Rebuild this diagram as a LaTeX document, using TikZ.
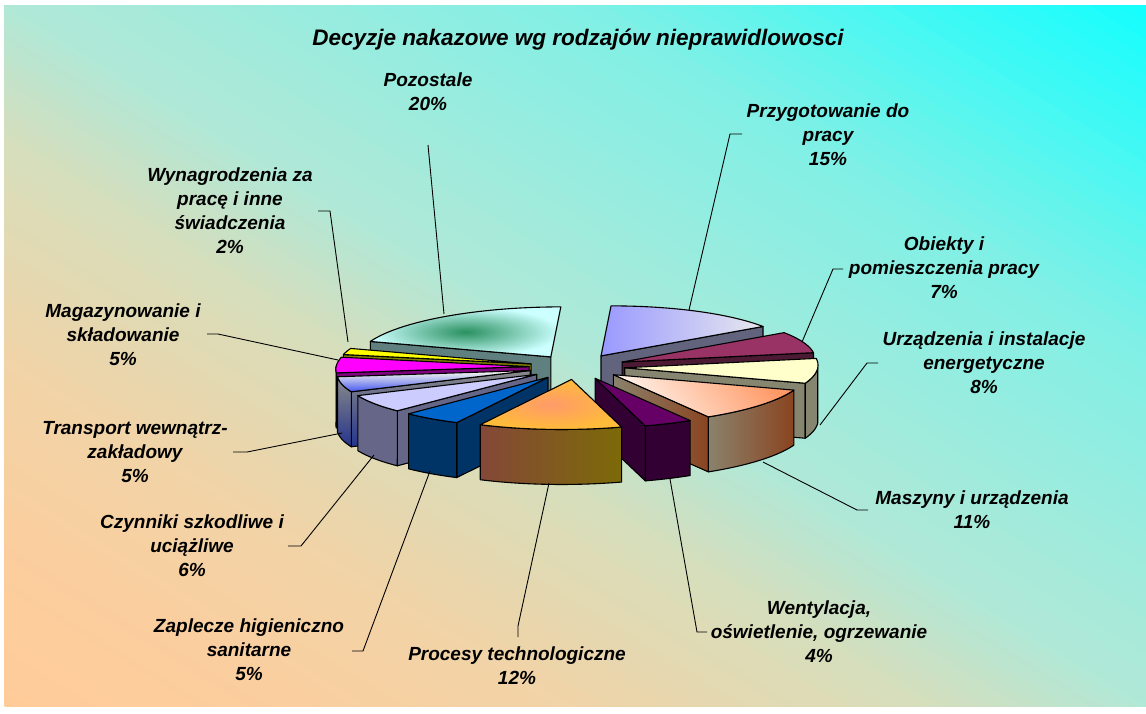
\documentclass[tikz,border=0pt]{standalone}
\usepackage{fontspec}
\setmainfont{Liberation Sans}
\usepackage{tikz}

% background, lower left to upper right
\definecolor{bgLL}{HTML}{FFCC99}
\definecolor{bgM0}{HTML}{FCCD9D}
\definecolor{bgM1}{HTML}{F0D4A8}
\definecolor{bgM2}{HTML}{D6DEBC}
\definecolor{bgM3}{HTML}{B0E8D7}
\definecolor{bgM4}{HTML}{80F0E6}
\definecolor{bgUR}{HTML}{10FFFF}
% slice colours
\definecolor{przygA}{HTML}{9999FF}
\definecolor{przygB}{HTML}{E8E8EE}
\definecolor{przygS}{HTML}{62647E}
\definecolor{pozA}{HTML}{CCFFFF}
\definecolor{pozB}{HTML}{2A9060}
\definecolor{pozS}{HTML}{608080}
\definecolor{obiA}{HTML}{993366}
\definecolor{obiS}{HTML}{4C1A33}
\definecolor{wynA}{HTML}{FFFF00}
\definecolor{wynS}{HTML}{808000}
\definecolor{magA}{HTML}{FF00FF}
\definecolor{magS}{HTML}{800080}
\definecolor{urzA}{HTML}{FFFFCC}
\definecolor{urzS}{HTML}{858570}
\definecolor{tranA}{HTML}{FFFFEE}
\definecolor{tranB}{HTML}{4455EE}
\definecolor{tranS}{HTML}{8A8A8A}
\definecolor{tranT}{HTML}{24348C}
\definecolor{czynA}{HTML}{CCCCFF}
\definecolor{czynS}{HTML}{666688}
\definecolor{maszA}{HTML}{FF9966}
\definecolor{maszB}{HTML}{FFF4EC}
\definecolor{maszS}{HTML}{8A826C}
\definecolor{maszT}{HTML}{8A4420}
\definecolor{zapA}{HTML}{0066CC}
\definecolor{zapS}{HTML}{003366}
\definecolor{wentA}{HTML}{660066}
\definecolor{wentS}{HTML}{330033}
\definecolor{procA}{HTML}{FFBB3A}
\definecolor{procB}{HTML}{FF9A6A}
\definecolor{procS}{HTML}{844838}
\definecolor{procT}{HTML}{7C6A08}

\tikzset{
  lbl/.style={font=\fontsize{19}{24}\selectfont\bfseries\itshape, align=center, inner sep=0pt},
  leader/.style={line width=0.9pt},
  edge/.style={draw=black, line width=1.1pt, line join=round},
  przygtop/.style={edge, left color=przygA, right color=przygB},
  przygside/.style={edge, fill=przygS},
  poztop/.style={edge, inner color=pozB, outer color=pozA},
  pozside/.style={edge, fill=pozS},
  obitop/.style={edge, fill=obiA},
  obiside/.style={edge, fill=obiS},
  wyntop/.style={edge, fill=wynA},
  wynside/.style={edge, fill=wynS},
  magtop/.style={edge, fill=magA},
  magside/.style={edge, fill=magS},
  urztop/.style={edge, fill=urzA},
  urzside/.style={edge, fill=urzS},
  trantop/.style={edge, top color=tranA, bottom color=tranB},
  transide/.style={edge, top color=tranS, bottom color=tranT},
  czyntop/.style={edge, fill=czynA},
  czynside/.style={edge, fill=czynS},
  masztop/.style={edge, top color=maszA, bottom color=maszB, shading angle=-55},
  maszside/.style={edge, left color=maszS, right color=maszT},
  zaptop/.style={edge, fill=zapA},
  zapside/.style={edge, fill=zapS},
  wenttop/.style={edge, fill=wentA},
  wentside/.style={edge, fill=wentS},
  proctop/.style={edge, inner color=procB, outer color=procA},
  procside/.style={edge, left color=procS, right color=procT},
}

\begin{document}
\begin{tikzpicture}[x=1pt, y=-1pt]
    \def\cx{577} % pie centre
    \def\cy{367}
    \def\rx{193} % ellipse radii
    \def\ry{50}
    \def\h{55}   % thickness
    \def\ex{48}  % explode offset
    \def\ey{12.5}
    \def\sh{-0.2} % slant of the view

    \useasboundingbox (0,0) rectangle (1146,713);

    % background: diagonal bands, peach (lower left) to cyan (upper right)
    \begin{scope}
      \clip (4,5) rectangle (1146,706);
      \foreach \ta/\tb/\ca/\cb in {0/0.1/bgLL/bgM0, 0.1/0.25/bgM0/bgM1, 0.25/0.4/bgM1/bgM2,
          0.4/0.5/bgM2/bgM3, 0.5/0.75/bgM3/bgM4, 0.75/1/bgM4/bgUR}
        \foreach \k in {0,...,19} {
          \pgfmathsetmacro\cl{2*(\ta+(\tb-\ta)*\k/20)}
          \pgfmathsetmacro\cr{2*(\ta+(\tb-\ta)*(\k+1.6)/20)}
          \pgfmathtruncatemacro\p{100-5*\k}
          \fill[\ca!\p!\cb] ({4+(\cl+0.1)*1142},776) -- ({4+(\cl-1.1)*1142},-65)
            -- ({4+(\cr-1.1)*1142},-65) -- ({4+(\cr+0.1)*1142},776) -- cycle;
        }
    \end{scope}

    % slices, back to front
    \foreach \a/\b/\tp/\sd in {0/54/przygtop/przygside, 288/360/poztop/pozside,
        54/79.2/obitop/obiside, 280.8/288/wyntop/wynside, 262.8/280.8/magtop/magside,
        79.2/108/urztop/urzside, 244.8/262.8/trantop/transide, 223.2/244.8/czyntop/czynside,
        108/147.6/masztop/maszside, 205.2/223.2/zaptop/zapside, 147.6/162/wenttop/wentside,
        162/205.2/proctop/procside} {
      \pgfmathsetmacro\m{(\a+\b)/2}
      \pgfmathsetmacro\vx{\cx+\ex*sin(\m)}
      \pgfmathsetmacro\vy{\cy-\ey*cos(\m)}
      \pgfmathsetmacro\ux{\vx+\sh*(\vy-\cy)}
      \pgfmathsetmacro\ax{\vx+\rx*sin(\a)+\sh*(\vy-\ry*cos(\a)-\cy)}
      \pgfmathsetmacro\ay{\vy-\ry*cos(\a)}
      \pgfmathsetmacro\bx{\vx+\rx*sin(\b)+\sh*(\vy-\ry*cos(\b)-\cy)}
      \pgfmathsetmacro\by{\vy-\ry*cos(\b)}
      \pgfmathtruncatemacro\vs{sin(\a)<-0.01}
      \pgfmathtruncatemacro\ve{sin(\b)>0.01}
      \pgfmathsetmacro\lo{max(\a,90)}
      \pgfmathsetmacro\hi{min(\b,270)}
      \pgfmathtruncatemacro\vw{\hi>\lo+0.01}
      % cut faces
      \ifnum\vs=1
        \draw[\sd] (\ux,\vy) -- (\ax,\ay) -- (\ax,\ay+\h) -- (\ux,\vy+\h) -- cycle;
      \fi
      \ifnum\ve=1
        \draw[\sd] (\ux,\vy) -- (\bx,\by) -- (\bx,\by+\h) -- (\ux,\vy+\h) -- cycle;
      \fi
      % outer wall
      \ifnum\vw=1
        \draw[\sd] plot[domain=\lo:\hi, samples=30, variable=\t]
            ({\vx+\rx*sin(\t)+\sh*(\vy-\ry*cos(\t)-\cy)},{\vy-\ry*cos(\t)})
          -- plot[domain=\hi:\lo, samples=30, variable=\t]
            ({\vx+\rx*sin(\t)+\sh*(\vy-\ry*cos(\t)-\cy)},{\vy-\ry*cos(\t)+\h}) -- cycle;
      \fi
      % top face
      \draw[\tp] (\ux,\vy) -- plot[domain=\a:\b, samples=30, variable=\t]
          ({\vx+\rx*sin(\t)+\sh*(\vy-\ry*cos(\t)-\cy)},{\vy-\ry*cos(\t)}) -- cycle;
    }

    % title
    \node[lbl, font=\fontsize{22.5}{27}\selectfont\bfseries\itshape] (title) at (578,40)
        {Decyzje nakazowe wg rodzajów nieprawidlowosci};

    % labels
    \node[lbl] (poz) at (428,92) {Pozostale\\20\%};
    \node[lbl] (przyg) at (828,135) {Przygotowanie do\\pracy\\15\%};
    \node[lbl] (obi) at (944,268) {Obiekty i\\pomieszczenia pracy\\7\%};
    \node[lbl] (urz) at (984,363) {Urządzenia i instalacje\\energetyczne\\8\%};
    \node[lbl] (masz) at (972,510) {Maszyny i urządzenia\\11\%};
    \node[lbl] (went) at (819,632) {Wentylacja,\\oświetlenie, ogrzewanie\\4\%};
    \node[lbl] (proc) at (517,666) {Procesy technologiczne\\12\%};
    \node[lbl] (zap) at (249,650) {Zaplecze higieniczno\\sanitarne\\5\%};
    \node[lbl] (czyn) at (192,546) {Czynniki szkodliwe i\\uciążliwe\\6\%};
    \node[lbl] (tran) at (135,452) {Transport wewnątrz-\\zakładowy\\5\%};
    \node[lbl] (mag) at (123,335) {Magazynowanie i\\składowanie\\5\%};
    \node[lbl] (wyn) at (230,211) {Wynagrodzenia za\\pracę i inne\\świadczenia\\2\%};

    % leader lines: label end (-a), slice end (-b)
    \coordinate (poz-a) at (428,145);   \coordinate (poz-b) at (444,314);
    \coordinate (przyg-a) at (742,134); \coordinate (przyg-b) at (689,310);
    \coordinate (obi-a) at (843,269);   \coordinate (obi-b) at (802,342);
    \coordinate (urz-a) at (878,363);   \coordinate (urz-b) at (820,425);
    \coordinate (masz-a) at (868,510);  \coordinate (masz-b) at (763,462);
    \coordinate (went-a) at (707,632);  \coordinate (went-b) at (670,479);
    \coordinate (proc-a) at (518,637);  \coordinate (proc-b) at (549,483);
    \coordinate (zap-a) at (352,651);   \coordinate (zap-b) at (430,471);
    \coordinate (czyn-a) at (288,546);  \coordinate (czyn-b) at (374,455);
    \coordinate (tran-a) at (233,452);  \coordinate (tran-b) at (342,433);
    \coordinate (mag-a) at (207,334);   \coordinate (mag-b) at (338,360);
    \coordinate (wyn-a) at (318,211);   \coordinate (wyn-b) at (348,342);

    \draw[leader] (poz-a) -- (poz-b);
    \draw[leader] (proc-a) -- ++(0,-11) -- (proc-b);
    \foreach \n/\d in {przyg/-12, obi/-10, urz/-11, masz/-11, went/-10,
        zap/11, czyn/13, tran/14, mag/11, wyn/12}
      \draw[leader] (\n-a) -- ++(\d,0) -- (\n-b);
\end{tikzpicture}
\end{document}
